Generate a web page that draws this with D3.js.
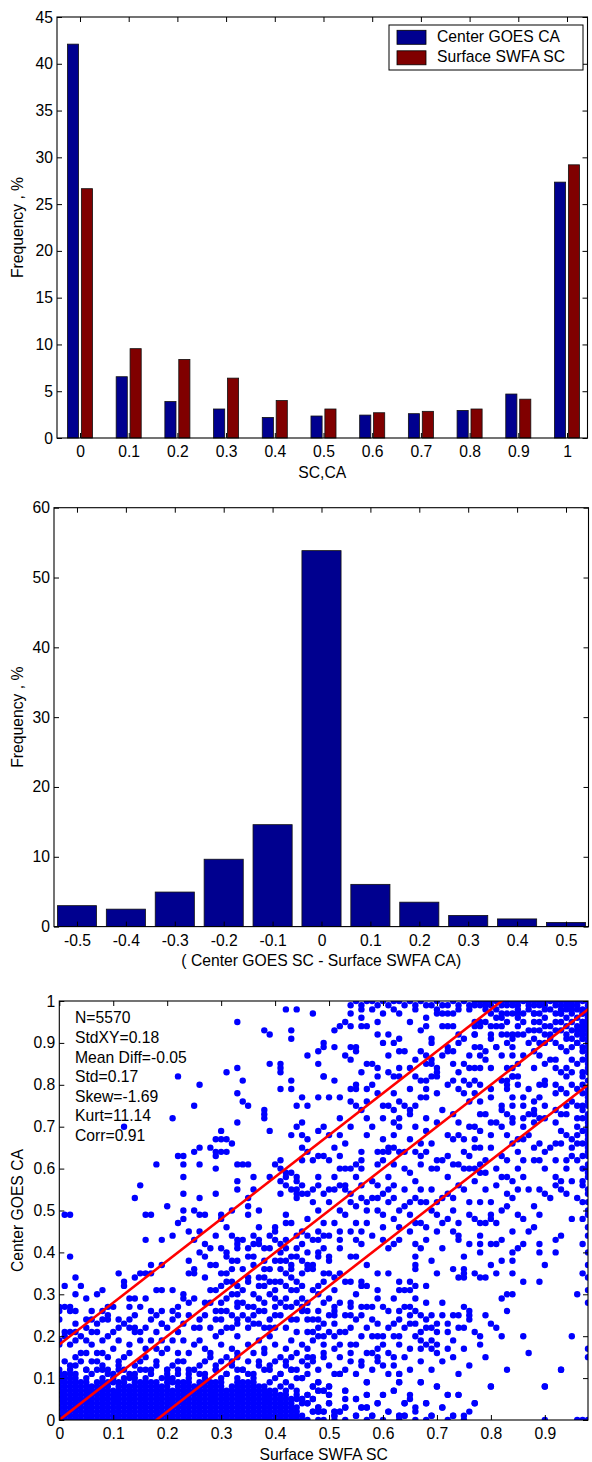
<!DOCTYPE html>
<html>
<head>
<meta charset="utf-8">
<script src="https://cdn.jsdelivr.net/npm/d3@7"></script>
<style>
  body { margin: 0; background: #fff; }
  svg { display: block; }
</style>
</head>
<body>
<svg id="fig" width="592" height="1462"></svg>
<script>
// ---------- Panel 1: SC / CA frequency histogram ----------
const scBins = [0, 0.1, 0.2, 0.3, 0.4, 0.5, 0.6, 0.7, 0.8, 0.9, 1];
const centerGoesCA = [42.1, 6.55, 3.9, 3.1, 2.2, 2.35, 2.45, 2.6, 2.95, 4.7, 27.35];
const surfaceSwfaSC = [26.65, 9.55, 8.4, 6.4, 4.0, 3.1, 2.7, 2.85, 3.1, 4.15, 29.2];
const seriesNames = ["Center GOES CA", "Surface SWFA SC"];
const seriesColors = ["#00008f", "#800000"];
const freqTicksTop = [0, 5, 10, 15, 20, 25, 30, 35, 40, 45];

// ---------- Panel 2: difference histogram ----------
const diffBins = [-0.5, -0.4, -0.3, -0.2, -0.1, 0, 0.1, 0.2, 0.3, 0.4, 0.5];
const diffFreq = [3.0, 2.5, 4.95, 9.65, 14.6, 53.85, 6.05, 3.5, 1.6, 1.1, 0.6];
const freqTicksMid = [0, 10, 20, 30, 40, 50, 60];

// ---------- Panel 3: scatter ----------
const scatterXTicks = [0, 0.1, 0.2, 0.3, 0.4, 0.5, 0.6, 0.7, 0.8, 0.9];
const scatterYTicks = [0, 0.1, 0.2, 0.3, 0.4, 0.5, 0.6, 0.7, 0.8, 0.9, 1];
const statLabels = ["N=5570", "StdXY=0.18", "Mean Diff=-0.05", "Std=0.17", "Skew=-1.69", "Kurt=11.14", "Corr=0.91"];
const stdXY = 0.18;
const refOffsets = [stdXY, 0, -stdXY];

// Dense low-cloud rows, values in hundredths: [y, "x x x ..."]
const lowRows = [
  [0, "0 1 2 3 4 5 6 7 8 9 10 11 12 13 14 15 16 17 18 19 20 21 22 23 24 25 26 27 28 29 30 31 32 33 34 35 36 37 38 39 40 41 42 43 44 45 46 48 49 51 53 57 60 63 66 68 72 75 90 96 97 98"],
  [1, "0 1 2 3 4 5 6 7 8 9 10 11 12 13 14 15 16 17 18 19 20 21 22 23 24 25 26 27 28 29 30 31 32 33 34 35 36 37 38 39 40 41 42 43 44 45 51 55 58 63 64 69 73 75"],
  [2, "0 1 2 3 4 5 6 7 8 9 10 11 12 13 14 15 16 17 18 19 20 21 22 23 24 25 26 27 28 29 30 31 32 33 34 35 36 37 38 39 40 41 42 43 44 47 48 49 51 52 61 66 76"],
  [3, "0 1 2 3 4 5 6 7 8 9 10 11 12 13 14 15 16 17 18 19 20 21 22 23 24 25 26 27 28 29 30 31 32 33 34 35 36 37 38 39 40 41 42 43 44 48 53 56 57 71"],
  [4, "0 1 2 3 4 5 6 7 8 9 10 11 12 13 14 15 16 17 18 19 20 21 22 23 24 25 26 27 28 29 30 31 32 33 34 35 36 37 38 39 40 41 42 43 45 46 50 59 64 68 77"],
  [5, "0 1 2 3 4 5 6 7 8 9 10 11 12 13 14 15 16 17 18 19 20 21 22 23 24 25 26 27 28 29 30 31 32 33 34 35 36 37 38 39 40 41 42 43 44 45 47 53 55 65"],
  [6, "0 1 2 3 4 5 6 7 8 9 10 11 12 13 14 15 16 17 18 19 20 21 22 23 24 25 26 27 28 29 30 31 32 33 34 35 36 37 38 39 40 41 42 44 46 50 57 60 72 74"],
  [7, "0 1 2 3 4 5 6 7 8 9 10 11 12 13 14 15 16 17 18 19 20 21 22 23 24 25 26 27 28 29 30 31 32 33 34 35 36 37 38 39 40 42 44 48 49 53 62"],
  [8, "0 1 2 3 4 5 6 7 8 9 11 12 13 14 15 16 17 18 19 20 22 23 24 25 26 27 28 29 30 32 33 34 35 36 37 38 41 43 47 50 70 80 90"],
  [9, "0 1 2 3 4 5 7 8 9 10 11 12 14 15 16 17 18 20 21 22 23 24 26 27 28 29 30 33 34 35 36 39 42 48 57 63 67"],
  [10, "0 1 2 3 5 8 10 12 13 14 16 19 20 21 24 27 30 33 36 40 44 45"],
  [11, "0 1 3 6 9 13 17 22 26 31 35 41 52 63"],
  [12, "0 2 5 8 11 15 20 24 29 34 38 43 93"],
  [98, "58 62 66 70 74 76 81 85 87 90 93 95 97"],
  [100, "55 57 58 60 62 63 65 67 70 73 75 77 78 79 81 82 84 85 87 88 90 92 93 95 96 98"]
];

// Remaining points, "x,y" in hundredths
const lowerLeftPts = "2,39 16,43 19,43 21,44 24,45 25,43 26,45 27,39 28,41 29,44 30,41 31,39 32,44 33,42 33,43 33,41 35,39 36,44 37,42 38,38 39,41 40,45 41,42 42,41 43,37 44,44 17,37 " +
  "11,35 14,34 15,35 16,35 17,35 19,37 12,33 12,32 13,29 14,29 16,29 3,34 4,32 1,32 3,30 5,29 7,30 8,31 18,31 19,31 21,31 24,35 25,35 25,36 27,34 28,37 29,31 30,35 30,32 31,35 32,33 33,32 33,30 35,34 36,37 37,34 38,34 39,33 40,31 41,36 42,35 43,34 44,31 23,30 " +
  "0,27 0,26 0,24 1,27 2,27 2,26 3,26 1,21 5,22 6,26 6,24 7,23 8,26 8,24 9,27 9,25 9,24 10,27 11,24 12,23 13,22 14,22 15,21 17,26 18,25 19,26 19,23 21,26 22,27 22,25 23,29 24,25 25,29 26,22 27,25 28,28 29,26 30,28 30,24 31,26 32,22 33,24 33,27 35,24 36,27 37,29 38,26 39,24 40,27 41,25 42,29 43,27 44,24 " +
  "0,19 0,18 1,20 2,18 3,21 3,19 3,15 5,19 5,16 6,18 7,21 7,16 8,19 8,16 9,20 10,17 11,19 12,15 13,18 14,21 15,19 16,17 17,19 18,17 19,19 20,17 21,19 22,16 23,19 24,16 25,18 26,19 27,17 28,16 29,20 30,18 31,15 32,17 33,20 33,16 35,18 36,16 37,19 38,17 39,20 40,18 41,15 42,17 43,19 44,16 " +
  "1,14 2,13 4,14 7,14 9,12 11,14 14,13 16,12 18,14 20,12 22,14 25,12 27,14 29,13 32,14 33,12 37,14 39,13 42,14 43,12 " +
  "2,11 3,13 4,16 5,12 6,14 7,12 8,13 9,15 10,11 11,13 12,12 13,16 14,11 15,14 16,15 17,12 18,13 19,16 2,21 3,23 4,20 5,24 6,21 10,21 11,22 13,24 14,25 16,22 17,24 18,21 19,23 15,27 13,27 " +
  "20,11 21,13 22,12 23,14 24,11 26,13 27,11 28,15 29,12 30,14 31,11 32,13 33,15 34,12 35,14 36,11 37,13 38,16 39,12 40,14 41,11 42,13 43,15 44,12 45,14 " +
  "20,22 21,24 22,21 23,23 24,28 25,22 26,24 27,28 28,22 28,31 29,24 30,21 31,29 32,25 33,23 34,28 34,31 35,22 36,25 36,30 37,23 38,28 38,32 39,22 40,25 40,29 41,33 42,22 42,27 43,31 44,21 44,28 45,32 " +
  "24,38 26,40 27,42 29,37 31,40 32,38 34,36 35,41 36,39 37,43 38,36 39,44 40,38 41,40 42,43 43,39 44,41 45,38 " +
  "30,26 31,22 32,30 33,28 34,25 35,33 35,27 36,23 37,32 37,26 38,22 39,30 39,36 40,33 40,22 41,28 41,38 42,32 43,24 43,36 44,33 45,27 31,33 32,36 33,38 34,43 36,42 38,41 40,43 42,38 44,39";

const lowerRightPts = "45,45 46,44 48,43 49,44 52,45 55,43 56,45 60,43 62,42 73,45 74,43 78,44 78,42 80,42 81,42 84,45 87,45 89,42 92,43 93,44 98,44 " +
  "45,42 48,40 48,39 50,39 50,38 46,37 47,37 46,36 52,41 54,39 55,39 57,37 66,42 67,41 66,37 66,36 75,36 75,35 82,38 84,40 85,41 86,42 89,40 92,40 90,37 98,37 97,35 " +
  "45,35 47,36 49,35 50,35 51,34 48,32 48,30 52,35 54,33 56,33 56,32 59,35 61,35 63,33 63,31 64,31 65,33 66,32 65,31 68,32 70,35 74,34 75,34 78,34 79,34 81,35 84,35 86,33 89,33 82,29 83,30 84,30 " +
  "45,29 45,26 46,26 49,28 51,27 51,26 50,25 51,25 54,28 54,27 56,25 57,27 59,29 63,26 65,27 66,29 67,25 68,24 69,22 75,27 76,26 76,25 75,22 82,20 86,20 95,20 46,24 47,24 48,24 49,23 " +
  "45,18 46,21 47,21 48,20 49,20 46,15 47,15 49,15 46,13 51,20 52,21 51,17 53,21 54,18 55,18 56,13 57,16 58,16 59,15 59,14 60,18 60,13 61,16 62,15 58,20 59,20 62,20 63,20 66,20 65,17 67,17 68,18 69,19 70,18 70,16 72,17 73,15 78,18 87,16 93,12 98,17 98,15 " +
  "45,10 47,8 48,7 49,7 45,5 46,4 47,2 48,3 48,2 49,2 50,8 50,4 51,2 51,1 52,11 53,3 54,14 56,3 57,3 57,6 60,6 63,11 63,9 63,1 64,4 67,9 68,4 70,8 72,6 74,6 80,8 90,8 " +
  "46,6 47,5 48,9 50,6 52,2 53,7 55,1 55,5 57,9 58,1 59,4 61,2 62,7 64,1 65,6 66,3 69,1 71,3 73,1 77,4 " +
  "46,11 47,14 48,12 49,16 50,13 51,11 52,15 53,12 54,16 55,11 56,14 58,12 59,17 61,11 62,13 64,15 65,12 67,14 69,12 71,14 74,11 76,13 79,15 83,12 " +
  "46,28 47,31 48,26 49,33 50,29 51,31 52,28 53,33 54,25 55,30 56,27 57,32 58,24 59,31 60,27 61,22 62,29 63,24 64,27 65,23 66,26 67,21 68,28 69,25 70,23 71,28 72,21 73,25 74,22 76,24 78,20 80,23 " +
  "46,40 47,43 48,45 49,41 50,44 51,47 52,43 53,49 54,45 55,51 56,42 57,47 58,44 59,50 60,46 61,41 62,48 63,43 64,51 65,45 66,39 67,47 68,43 69,38 70,45 71,41 72,48 73,36 74,44 75,39 76,42 77,35 78,40 80,37 82,43 84,38 " +
  "46,17 47,19 48,22 49,18 50,21 51,23 52,18 53,25 54,22 55,24 56,20 57,22 58,27 59,23 60,20 61,26 62,23 63,18 64,22 65,25 66,23 67,19 68,22 69,17 70,21 71,25 72,23 73,19 74,25 75,17 77,21 79,25 81,22 83,26 " +
  "98,31 98,34 98,40 97,42 98,28 96,30";

const upperLeftPts = "1,49 2,49 12,70 14,53 15,56 16,49 17,49 18,61 20,51 21,72 22,82 22,63 23,63 23,61 23,58 23,54 23,50 23,48 22,47 25,75 26,80 25,64 26,65 26,61 26,53 25,50 26,49 27,49 " +
  "42,98 44,98 33,95 38,93 39,92 43,93 43,91 41,85 41,84 39,85 33,84 34,81 31,83 41,83 43,81 43,79 41,79 33,78 34,76 35,75 38,74 38,73 38,72 44,75 33,71 39,69 44,70 43,68 30,69 29,67 30,67 31,67 32,66 28,65 31,64 30,64 29,64 29,63 29,60 29,54 " +
  "33,61 34,61 35,61 33,57 33,55 36,58 36,55 35,53 32,50 30,49 30,48 31,46 35,51 35,49 37,50 39,58 40,61 41,62 41,60 41,57 41,54 42,59 42,58 42,56 43,59 44,58 44,57 44,55 44,54 44,53 43,55 42,49 42,47 40,46 43,47 37,46";

const upperRightPts = "54,99 56,99 59,99 61,99 64,99 66,99 68,99 69,99 71,99 72,99 74,99 76,99 77,99 78,99 79,99 80,99 82,99 83,99 84,99 85,99 87,99 88,99 89,99 90,99 92,99 93,99 94,99 95,99 96,99 98,99 80,100 83,100 86,100 89,100 91,100 94,100 97,100 " +
  "47,97 54,97 56,98 56,96 60,97 63,97 65,95 68,96 70,97 71,97 72,97 73,97 77,95 78,95 79,98 80,97 82,97 83,95 84,97 85,97 86,97 88,97 89,95 92,97 93,97 94,96 95,97 96,96 98,97 98,95 " +
  "46,87 51,93 52,94 53,95 54,94 56,94 57,94 59,95 59,92 61,92 63,91 67,93 68,94 71,94 72,94 73,94 74,92 75,91 77,92 77,94 78,94 80,94 81,94 82,94 83,92 84,92 85,92 86,92 88,93 89,90 90,92 92,93 93,93 95,93 96,92 97,92 98,91 97,89 98,89 96,90 95,89 84,91 83,90 81,89 78,89 77,89 72,89 73,88 69,91 69,90 62,90 60,90 55,89 49,90 49,89 48,88 51,89 " +
  "48,85 49,82 53,87 54,89 54,86 55,88 56,83 57,85 58,85 59,84 59,82 61,87 61,83 62,82 63,88 63,84 64,88 65,84 66,82 67,88 68,85 68,87 69,86 70,83 72,88 73,85 74,83 75,85 76,87 77,84 78,87 79,88 81,89 82,87 83,84 84,87 85,85 86,87 88,88 89,87 90,85 92,86 92,84 94,84 95,86 96,85 98,86 98,83 97,82 95,83 94,82 84,84 84,82 83,81 80,84 78,84 77,81 75,81 70,82 68,81 " +
  "45,77 46,75 48,77 49,82 50,77 51,81 52,77 54,79 54,76 55,80 55,79 56,74 57,79 59,78 60,75 61,75 62,74 63,76 64,75 65,74 66,75 67,81 68,79 68,77 69,82 70,84 72,80 74,79 75,78 76,80 77,78 78,76 78,80 80,77 82,81 83,80 83,79 84,82 85,80 86,77 88,76 89,80 90,80 92,80 93,79 94,78 95,80 96,79 98,77 98,75 97,74 96,75 94,75 93,73 92,74 86,75 88,74 " +
  "45,71 45,68 46,67 48,69 49,70 51,65 52,68 57,72 58,70 59,64 60,67 61,65 62,68 62,71 63,72 65,73 66,70 67,66 68,72 70,71 72,68 73,73 74,68 75,67 77,67 78,69 80,68 82,70 83,73 84,71 84,72 85,67 86,67 87,73 88,73 89,72 90,72 92,66 93,66 94,68 95,67 96,68 98,68 98,66 98,71 96,70 " +
  "45,65 45,62 46,64 47,62 48,63 49,63 50,62 52,60 53,60 54,60 55,61 56,62 56,60 59,61 60,64 61,64 62,61 63,64 64,64 65,59 66,64 67,61 68,64 69,60 70,62 71,62 73,61 74,61 76,60 77,60 78,61 79,59 82,58 83,58 84,57 85,64 88,65 89,62 90,64 92,58 93,57 94,62 95,63 96,62 98,63 98,59 97,57 " +
  "45,56 45,54 46,54 47,55 48,56 49,54 51,55 52,56 53,56 54,54 56,53 57,52 59,53 60,54 61,55 62,53 63,50 65,52 66,53 67,52 68,52 69,50 70,49 71,53 72,54 73,53 74,56 76,49 77,48 78,47 79,47 80,48 80,49 81,47 83,54 84,53 85,49 86,48 88,46 89,49 90,54 92,56 93,55 94,54 95,57 96,53 98,54 97,52 98,49 97,48 95,48 " +
  "98,46 98,50 98,52 98,55 98,58 98,60 98,61 98,64 98,65 98,67 98,69 98,70 98,72 98,73 98,76 98,78 98,79 98,81 98,84 98,85 98,87 98,88 98,90 98,92 98,93 98,94 98,95 98,96 98,98 " +
  "97,56 97,60 97,63 97,66 97,69 97,72 97,75 97,78 97,80 97,83 97,86 97,88 97,91 97,93 97,95 97,97 " +
  "88,95 89,93 90,96 91,94 91,98 92,95 93,95 94,94 94,98 95,95 96,94 96,98 97,95 97,97 98,93 98,96 90,90 91,91 93,89 94,91 96,90 97,91 " +
  "86,95 87,93 88,91 89,97 90,94 91,92 92,90 93,97 94,92 95,91 95,99 96,93 97,94 98,94 85,96 83,97 81,96 79,95 82,92 80,92 " +
  "48,58 50,55 52,63 53,66 55,58 56,64 57,68 58,57 60,62 61,58 62,65 63,70 64,60 65,67 66,57 67,63 68,69 69,66 70,60 71,74 72,63 73,67 74,71 75,64 76,76 77,70 78,65 79,73 80,79 81,71 82,75 83,68 84,77 85,82 86,72 87,79 88,84 89,77 90,81 91,86 92,78 93,83 94,88 95,76 " +
  "50,68 52,72 54,70 55,75 57,76 58,80 60,72 62,78 63,82 65,79 66,86 67,77 69,85 70,78 71,87 73,81 74,90 76,84 77,92 79,86 80,91 82,96 84,89 85,94 87,90 88,97 " +
  "46,48 47,52 48,50 49,47 50,52 51,58 52,50 53,55 54,52 55,47 56,56 57,50 58,53 59,56 60,49 61,52 62,56 63,46 64,55 65,49 66,47 67,55 68,46 69,55 70,52 71,47 72,58 73,50 74,47 75,55 76,52 77,57 78,52 79,55 80,52 81,56 82,50 83,51 85,55 86,58 87,55 88,51 89,55 91,53 " +
  "75,60 76,63 77,65 78,59 79,62 80,65 81,60 82,63 83,62 84,66 85,60 86,62 87,68 88,62 89,66 90,60 91,65 92,62 93,69 94,60 95,65 96,66 76,70 78,73 80,71 82,74 84,75 86,70 88,71 90,75 92,71 94,73 96,72";

// ---------- helpers ----------
const FONT = 15.7;
const FAMILY = "'Liberation Sans', Arial, Helvetica, sans-serif";
const fmt = d => String(+d.toFixed(2));
const svg = d3.select("#fig");
svg.append("rect").attr("width", 592).attr("height", 1462).attr("fill", "#fff");

function parsePairs(s) {
  return s.trim().split(/\s+/).map(t => {
    const [a, b] = t.split(",");
    return [+a / 100, +b / 100];
  });
}
function rowsToPairs(rows) {
  const out = [];
  rows.forEach(([yv, xs]) => xs.trim().split(/\s+/).forEach(xv => out.push([+xv / 100, yv / 100])));
  return out;
}

function styleAxis(g) {
  g.attr("font-family", FAMILY).attr("font-size", FONT);
  g.select(".domain").remove();
  g.selectAll(".tick line").attr("stroke", "#000").attr("stroke-width", 1);
  g.selectAll(".tick text").attr("fill", "#000");
}

// Box with inward ticks on all four sides
function frame(x, y, xTicks, yTicks) {
  const [x0, x1] = x.range();
  const [y0, y1] = y.range(); // y0 bottom, y1 top
  const g = svg.append("g");
  g.append("g").attr("transform", `translate(0,${y0})`)
    .call(d3.axisBottom(x).tickValues(xTicks).tickSize(-5).tickPadding(8).tickFormat(fmt))
    .call(styleAxis);
  g.append("g").attr("transform", `translate(0,${y1})`)
    .call(d3.axisTop(x).tickValues(xTicks).tickSize(-5).tickFormat(""))
    .call(styleAxis);
  g.append("g").attr("transform", `translate(${x0},0)`)
    .call(d3.axisLeft(y).tickValues(yTicks).tickSize(-5).tickPadding(4).tickFormat(fmt))
    .call(styleAxis);
  g.append("g").attr("transform", `translate(${x1},0)`)
    .call(d3.axisRight(y).tickValues(yTicks).tickSize(-5).tickFormat(""))
    .call(styleAxis);
  g.append("rect")
    .attr("x", x0).attr("y", y1).attr("width", x1 - x0).attr("height", y0 - y1)
    .attr("fill", "none").attr("stroke", "#000").attr("stroke-width", 1.1);
  return g;
}

function label(txt, x, y, opts = {}) {
  const t = svg.append("text")
    .attr("font-family", FAMILY).attr("font-size", FONT).attr("fill", "#000")
    .attr("text-anchor", opts.anchor || "middle")
    .text(txt);
  if (opts.rotate) t.attr("transform", `translate(${x},${y}) rotate(-90)`);
  else t.attr("x", x).attr("y", y);
  return t;
}

// ---------- Panel 1 ----------
{
  const x = d3.scaleLinear().domain([-0.0472, 1.0421]).range([57, 587.5]);
  const y = d3.scaleLinear().domain([0, 45]).range([438, 17]);
  const groupOffset = 0.01428, barW = 0.02286;
  const series = [centerGoesCA, surfaceSwfaSC];
  series.forEach((vals, si) => {
    const off = si === 0 ? -groupOffset : groupOffset;
    svg.append("g").selectAll("rect").data(vals).join("rect")
      .attr("x", (d, i) => x(scBins[i] + off - barW / 2))
      .attr("width", x(barW) - x(0))
      .attr("y", d => y(d))
      .attr("height", d => y(0) - y(d))
      .attr("fill", seriesColors[si])
      .attr("stroke", "#111").attr("stroke-width", 0.8);
  });
  frame(x, y, scBins, freqTicksTop);
  label("Frequency , %", 23, (17 + 438) / 2, { rotate: true });
  label("SC,CA", (57 + 587.5) / 2, 478);

  // legend
  const lg = svg.append("g");
  lg.append("rect").attr("x", 389).attr("y", 25).attr("width", 194).attr("height", 45)
    .attr("fill", "#fff").attr("stroke", "#000").attr("stroke-width", 1);
  seriesNames.forEach((nm, i) => {
    lg.append("rect").attr("x", 397).attr("y", 30.3 + i * 20.5).attr("width", 29).attr("height", 14)
      .attr("fill", seriesColors[i]).attr("stroke", "#000").attr("stroke-width", 0.8);
    lg.append("text").attr("x", 437).attr("y", 41.8 + i * 20.5)
      .attr("font-family", FAMILY).attr("font-size", FONT).attr("fill", "#000").text(nm);
  });
}

// ---------- Panel 2 ----------
{
  const x = d3.scaleLinear().domain([-0.547, 0.546]).range([54, 588.5]);
  const y = d3.scaleLinear().domain([0, 60]).range([926.6, 507.7]);
  const barW = 0.08;
  svg.append("g").selectAll("rect").data(diffFreq).join("rect")
    .attr("x", (d, i) => x(diffBins[i] - barW / 2))
    .attr("width", x(barW) - x(0))
    .attr("y", d => y(d))
    .attr("height", d => y(0) - y(d))
    .attr("fill", seriesColors[0])
    .attr("stroke", "#111").attr("stroke-width", 0.8);
  frame(x, y, diffBins, freqTicksMid);
  label("Frequency , %", 23, (507.7 + 926.6) / 2, { rotate: true });
  label("( Center GOES SC - Surface SWFA CA)", (54 + 588.5) / 2, 966);
}

// ---------- Panel 3 ----------
{
  const x = d3.scaleLinear().domain([0, 0.98]).range([59.3, 588]);
  const y = d3.scaleLinear().domain([0, 1]).range([1420, 1001]);
  const pts = [
    ...rowsToPairs(lowRows),
    ...parsePairs(lowerLeftPts),
    ...parsePairs(lowerRightPts),
    ...parsePairs(upperLeftPts),
    ...parsePairs(upperRightPts)
  ];
  svg.append("clipPath").attr("id", "scatterClip")
    .append("rect").attr("x", 59.3).attr("y", 1001).attr("width", 588 - 59.3).attr("height", 419);
  const plot = svg.append("g").attr("clip-path", "url(#scatterClip)");
  plot.append("g").selectAll("circle").data(pts).join("circle")
    .attr("cx", d => x(d[0])).attr("cy", d => y(d[1])).attr("r", 3.2)
    .attr("fill", "#0000ff");
  const line = d3.line().x(d => x(d[0])).y(d => y(d[1]));
  refOffsets.forEach(off => {
    plot.append("path")
      .attr("d", line([[0, off], [1.05, 1.05 + off]]))
      .attr("fill", "none").attr("stroke", "#ff0000").attr("stroke-width", 2.6);
  });
  frame(x, y, scatterXTicks, scatterYTicks);
  statLabels.forEach((s, i) => label(s, 75, 1023.3 + i * 19.6, { anchor: "start" }));
  label("Center GOES CA", 23, (1001 + 1420) / 2, { rotate: true });
  label("Surface SWFA SC", (59.3 + 588) / 2, 1460);
}
</script>
</body>
</html>
